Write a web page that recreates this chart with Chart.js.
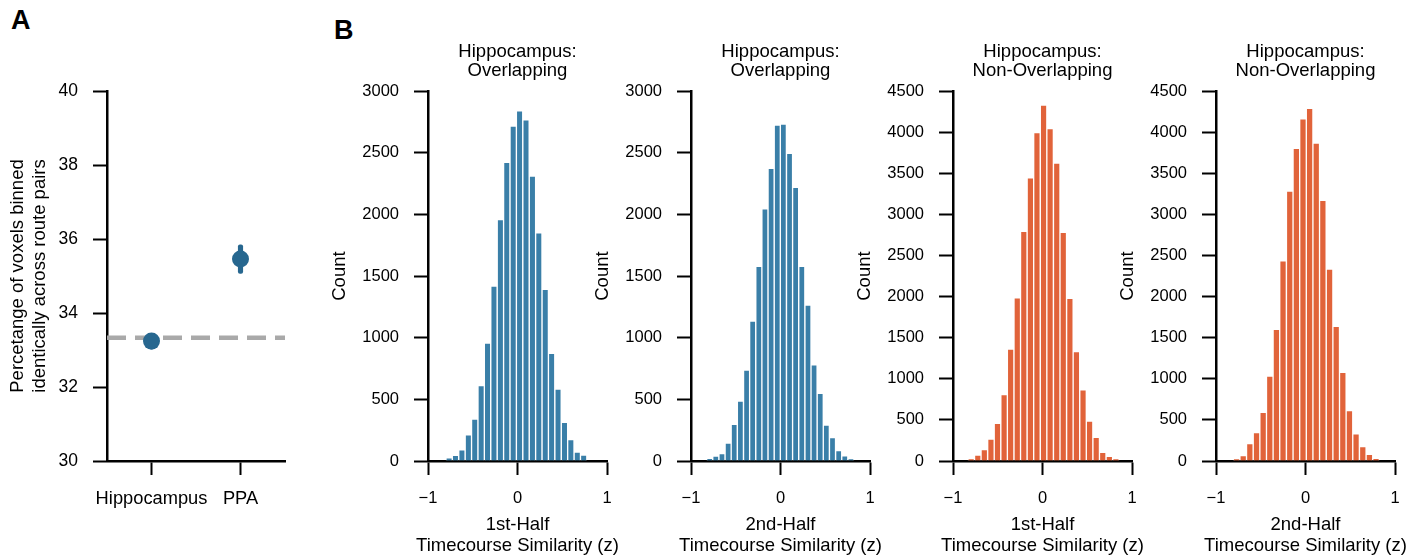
<!DOCTYPE html>
<html>
<head>
<meta charset="utf-8">
<script src="https://cdn.jsdelivr.net/npm/chart.js@4.4.0/dist/chart.umd.min.js"></script>
<style>
  body { margin: 0; background: #fff; }
  #fig { position: relative; width: 1425px; height: 559px; overflow: hidden; font-family: "Liberation Sans", Arial, sans-serif; }
  #fig canvas { position: absolute; top: 0; }
  .panel-tag { position: absolute; font-weight: bold; font-size: 27px; line-height: 1; color: #000; }
</style>
</head>
<body>
<div id="fig">
  <div class="panel-tag" style="left:11px;top:7px">A</div>
  <div class="panel-tag" style="left:334px;top:17px">B</div>
  <canvas id="roiChart" width="300" height="559" style="left:0px"></canvas>
  <canvas id="hist1" width="299" height="559" style="left:328px"></canvas>
  <canvas id="hist2" width="299" height="559" style="left:591px"></canvas>
  <canvas id="hist3" width="299" height="559" style="left:853px"></canvas>
  <canvas id="hist4" width="299" height="559" style="left:1116px"></canvas>
</div>
<script>
// ---- panel A: % of voxels binned identically ----
const roiLabels = ['Hippocampus', 'PPA'];
const roiMeans = [33.24, 35.46];
const roiLow = [33.02, 35.07];
const roiHigh = [33.45, 35.84];
const chanceLevel = 33.33;

// ---- panel B: histograms of timecourse similarity (bin centres, counts) ----
const hist1Bins = [-0.764, -0.693, -0.621, -0.549, -0.478, -0.406, -0.335, -0.263, -0.191, -0.120, -0.048,
                   0.023, 0.095, 0.167, 0.238, 0.310, 0.381, 0.453, 0.525, 0.596, 0.668, 0.739];
const hist1Counts = [25, 45, 90, 212, 340, 611, 957, 1419, 1959, 2422, 2716,
                     2841, 2768, 2311, 1851, 1392, 873, 584, 314, 173, 72, 49];

const hist2Bins = [-0.791, -0.723, -0.654, -0.585, -0.517, -0.448, -0.379, -0.311, -0.242, -0.174, -0.105, -0.036,
                   0.032, 0.101, 0.169, 0.238, 0.307, 0.375, 0.444, 0.512, 0.581, 0.650, 0.718, 0.787];
const hist2Counts = [22, 40, 60, 145, 297, 486, 738, 1135, 1578, 2046, 2373, 2724,
                     2732, 2495, 2219, 1578, 1265, 781, 549, 292, 189, 85, 42, 18];

const hist3Bins = [-0.797, -0.723, -0.650, -0.576, -0.503, -0.429, -0.356, -0.282, -0.209, -0.135, -0.062, 0.012,
                   0.085, 0.159, 0.232, 0.306, 0.379, 0.453, 0.526, 0.600, 0.673, 0.747, 0.820];
const hist3Counts = [28, 72, 138, 268, 458, 807, 1362, 1986, 2793, 3446, 3997, 4329,
                     4045, 3624, 2781, 1978, 1330, 867, 486, 288, 104, 58, 28];

const hist4Bins = [-0.770, -0.696, -0.622, -0.547, -0.473, -0.399, -0.325, -0.251, -0.176, -0.102, -0.028,
                   0.046, 0.120, 0.194, 0.269, 0.343, 0.417, 0.491, 0.565, 0.640, 0.714, 0.788];
const hist4Counts = [28, 65, 211, 345, 592, 1034, 1601, 2436, 3284, 3803, 4164,
                     4289, 3868, 3170, 2335, 1638, 1078, 612, 332, 174, 81, 32];

const histTitles = [['Hippocampus:', 'Overlapping'], ['Hippocampus:', 'Overlapping'],
                    ['Hippocampus:', 'Non-Overlapping'], ['Hippocampus:', 'Non-Overlapping']];
const histXTitles = [['1st-Half', 'Timecourse Similarity (z)'], ['2nd-Half', 'Timecourse Similarity (z)'],
                     ['1st-Half', 'Timecourse Similarity (z)'], ['2nd-Half', 'Timecourse Similarity (z)']];
const histYMax = [3000, 3000, 4500, 4500];

const BLUE_DARK = '#27678f';
const BLUE_BAR = '#3a7fa8';
const ORANGE_BAR = '#e1633a';

const FONT_FAMILY = '"Liberation Sans", Arial, Helvetica, sans-serif';
Chart.defaults.font.family = FONT_FAMILY;
Chart.defaults.color = '#000';

const TITLE_SIZE = 18.5;
const spine = { display: true, color: '#000', width: 2.5 };
const tickGrid = { display: true, drawOnChartArea: false, drawTicks: true, tickLength: 14, tickWidth: 2, tickColor: '#000' };

const plainFmt = v => (v < 0 ? '\u2212' + Math.abs(v) : String(v));

// dashed chance line, drawn under the points
const chanceLine = {
    id: 'chanceLine',
    beforeDatasetsDraw(chart) {
        const { ctx, chartArea, scales } = chart;
        const py = scales.y.getPixelForValue(chanceLevel);
        ctx.save();
        ctx.strokeStyle = '#a9a9a9';
        ctx.lineWidth = 4.5;
        ctx.setLineDash([19, 9]);
        ctx.beginPath();
        ctx.moveTo(chartArea.left, py);
        ctx.lineTo(chartArea.right, py);
        ctx.stroke();
        ctx.restore();
    }
};

// x-axis title centred under the plot; allowed to run wider than the axis (the built-in one gets squeezed)
const xTitle = {
    id: 'xTitle',
    afterDraw(chart, args, opts) {
        if (!opts.lines) return;
        const { ctx, chartArea } = chart;
        const cx = (chartArea.left + chartArea.right) / 2;
        ctx.save();
        ctx.font = TITLE_SIZE + 'px ' + FONT_FAMILY;
        ctx.fillStyle = '#000';
        ctx.textAlign = 'center';
        ctx.textBaseline = 'middle';
        opts.lines.forEach((t, i) => ctx.fillText(t, cx, opts.y + i * opts.gap));
        ctx.restore();
    }
};

new Chart(document.getElementById('roiChart'), {
    type: 'bar',
    data: {
        labels: roiLabels,
        datasets: [
            {
                type: 'line', data: roiMeans, showLine: false, order: 0,
                pointRadius: 8.5, pointBackgroundColor: BLUE_DARK, pointBorderWidth: 0
            },
            {
                type: 'bar', data: roiLabels.map((_, i) => [roiLow[i], roiHigh[i]]), order: 1,
                backgroundColor: BLUE_DARK, barThickness: 4.5, borderRadius: 2, borderSkipped: false
            }
        ]
    },
    options: {
        responsive: false, animation: false, events: [],
        layout: { autoPadding: false, padding: { top: 91, right: 15, left: 0, bottom: 0 } },
        plugins: { legend: { display: false }, tooltip: { enabled: false } },
        scales: {
            x: {
                afterFit: s => { s.height = 98; },
                border: spine, grid: { ...tickGrid, offset: false },
                ticks: { font: { size: 18.3 }, padding: 13, maxRotation: 0, autoSkip: false }
            },
            y: {
                min: 30, max: 40,
                afterFit: s => { s.width = 107; },
                border: spine, grid: tickGrid,
                ticks: { stepSize: 2, font: { size: 17.5 }, padding: 15 },
                title: {
                    display: true, text: ['Percetange of voxels binned', 'identically across route pairs'],
                    font: { size: TITLE_SIZE, lineHeight: 1.19 }, padding: { top: 7, bottom: 0 }
                }
            }
        }
    },
    plugins: [chanceLine]
});

function makeHist(canvasId, bins, counts, color, idx) {
    const pts = bins.map((b, i) => ({ x: b, y: counts[i] }));
    return new Chart(document.getElementById(canvasId), {
        type: 'bar',
        data: {
            datasets: [{
                data: pts, backgroundColor: color,
                borderColor: 'rgba(255,255,255,0.55)', borderWidth: 1, borderSkipped: 'start',
                barPercentage: 1, categoryPercentage: 1, grouped: false
            }]
        },
        options: {
            responsive: false, animation: false, events: [],
            layout: { autoPadding: false, padding: { top: 42.5, right: 20, left: 0, bottom: 0 } },
            plugins: {
                legend: { display: false }, tooltip: { enabled: false },
                title: {
                    display: true, text: histTitles[idx], fullSize: false, color: '#000',
                    font: { size: TITLE_SIZE, weight: 'normal', lineHeight: 1.03 }, padding: { top: 0, bottom: 10.5 }
                },
                xTitle: { lines: histXTitles[idx], y: 524.5, gap: 21 }
            },
            scales: {
                x: {
                    type: 'linear', min: -1, max: 1, offset: false,
                    afterFit: s => { s.height = 98; },
                    border: spine, grid: { ...tickGrid, offset: false },
                    ticks: { stepSize: 1, font: { size: 16.5 }, padding: 14, callback: plainFmt }
                },
                y: {
                    min: 0, max: histYMax[idx],
                    afterFit: s => { s.width = 100; },
                    border: spine, grid: tickGrid,
                    ticks: { stepSize: 500, font: { size: 16.5 }, padding: 15, callback: plainFmt },
                    title: { display: true, text: 'Count', font: { size: TITLE_SIZE }, padding: { top: 1, bottom: 0 } }
                }
            }
        },
        plugins: [xTitle]
    });
}

makeHist('hist1', hist1Bins, hist1Counts, BLUE_BAR, 0);
makeHist('hist2', hist2Bins, hist2Counts, BLUE_BAR, 1);
makeHist('hist3', hist3Bins, hist3Counts, ORANGE_BAR, 2);
makeHist('hist4', hist4Bins, hist4Counts, ORANGE_BAR, 3);
</script>
</body>
</html>
